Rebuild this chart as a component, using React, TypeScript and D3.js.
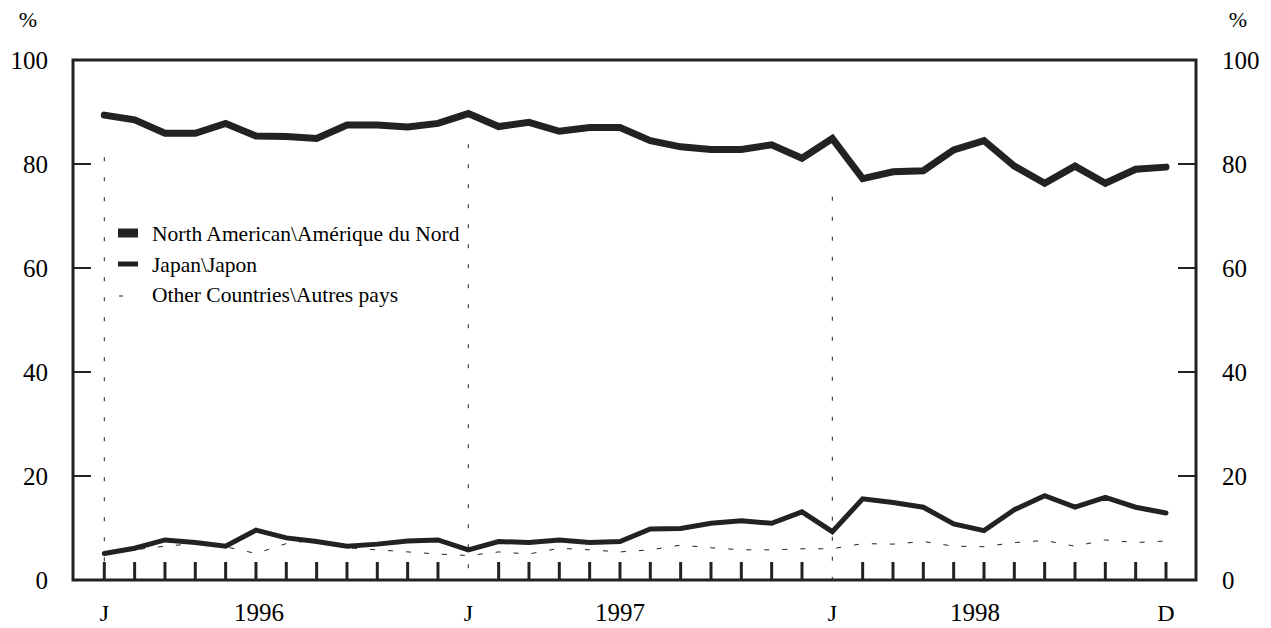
import React from "react";
import * as d3 from "d3";

const months: number[] = d3.range(36);

const northAmerica: number[] = [
  89.4, 88.5, 85.9, 85.9, 87.8, 85.4, 85.3, 84.9, 87.5, 87.5, 87.1, 87.8,
  89.7, 87.2, 88.0, 86.3, 87.0, 87.0, 84.5, 83.3, 82.8, 82.8, 83.7, 81.1,
  84.9, 77.2, 78.5, 78.7, 82.7, 84.5, 79.6, 76.3, 79.6, 76.3, 79.0, 79.4,
];

const japan: number[] = [
  5.1, 6.1, 7.7, 7.2, 6.5, 9.6, 8.1, 7.4, 6.5, 6.9, 7.5, 7.7,
  5.8, 7.4, 7.2, 7.7, 7.2, 7.4, 9.8, 9.9, 10.9, 11.4, 10.9, 13.1,
  9.3, 15.6, 14.9, 14.0, 10.8, 9.5, 13.5, 16.2, 14.0, 15.9, 14.0, 12.9,
];

const otherCountries: number[] = [
  5.1, 5.8, 6.5, 7.0, 6.4, 5.1, 7.0, 7.7, 6.2, 5.8, 5.4, 5.0,
  4.7, 5.4, 5.0, 6.1, 5.8, 5.4, 5.8, 6.7, 6.2, 5.8, 5.8, 6.0,
  6.0, 7.0, 6.9, 7.4, 6.5, 6.4, 7.2, 7.6, 6.5, 7.7, 7.2, 7.5,
];

const yTicks: number[] = [0, 20, 40, 60, 80, 100];

// year dividers: month index and the height (in %) where the dotted line starts
const dividerMonths: number[] = [0, 12, 24];
const dividerTops: number[] = [81.3, 83.8, 73.7];

const monthLabels: string[] = ["J", "J", "J", "D"];
const monthLabelPos: number[] = [0, 12, 24, 35];
const yearLabels: string[] = ["1996", "1997", "1998"];
const yearLabelPos: number[] = [5.1, 17, 28.7];

const legendLabels: string[] = [
  "North American\\Amérique du Nord",
  "Japan\\Japon",
  "Other Countries\\Autres pays",
];

const INK = "#222";
const FONT = "'Liberation Serif', 'Times New Roman', serif";

export default function App() {
  const W = 1271;
  const H = 628;
  const left = 73;
  const right = 1196;
  const top = 60;
  const bottom = 580;

  const x = d3.scaleLinear().domain([0, 35]).range([104.3, 1166]);
  const y = d3.scaleLinear().domain([0, 100]).range([bottom, top]);

  const line = d3
    .line<number>()
    .x((_, i) => x(months[i]))
    .y((d) => y(d))
    .curve(d3.curveLinear);

  return (
    <svg
      width={W}
      height={H}
      style={{ position: "absolute", left: 0, top: 0, background: "#fff", fontFamily: FONT }}
    >
      <rect x={0} y={0} width={W} height={H} fill="#fff" />

      {/* year divider dotted lines */}
      {dividerMonths.map((m, i) => (
        <line
          key={"div" + i}
          x1={x(m)}
          x2={x(m)}
          y1={y(dividerTops[i])}
          y2={bottom}
          stroke={INK}
          strokeWidth={1}
          strokeDasharray="4,16"
        />
      ))}

      {/* x ticks */}
      {months
        .filter((m) => m !== 12 && m !== 24)
        .map((m) => (
          <line
            key={"xt" + m}
            x1={x(m)}
            x2={x(m)}
            y1={bottom - 18}
            y2={bottom}
            stroke={INK}
            strokeWidth={3}
          />
        ))}

      {/* y ticks left & right */}
      {yTicks
        .filter((t) => t !== 0 && t !== 100)
        .map((t) => (
          <g key={"yt" + t}>
            <line x1={left} x2={left + 18} y1={y(t)} y2={y(t)} stroke={INK} strokeWidth={2} />
            <line x1={right - 18} x2={right} y1={y(t)} y2={y(t)} stroke={INK} strokeWidth={2} />
          </g>
        ))}

      {/* series */}
      <path
        d={line(otherCountries) || ""}
        fill="none"
        stroke={INK}
        strokeWidth={1}
        strokeDasharray="5,13"
      />
      <path
        d={line(japan) || ""}
        fill="none"
        stroke={INK}
        strokeWidth={5}
        strokeLinejoin="miter"
        strokeLinecap="round"
      />
      <path
        d={line(northAmerica) || ""}
        fill="none"
        stroke={INK}
        strokeWidth={7}
        strokeLinejoin="miter"
        strokeLinecap="round"
      />

      {/* frame */}
      <rect
        x={left}
        y={top}
        width={right - left}
        height={bottom - top}
        fill="none"
        stroke={INK}
        strokeWidth={3}
      />

      {/* y labels */}
      {yTicks.map((t) => (
        <g key={"yl" + t}>
          <text x={48} y={y(t) + 8.5} textAnchor="end" fontSize={25} fill="#000">
            {t}
          </text>
          <text x={1222} y={y(t) + 8.5} textAnchor="start" fontSize={25} fill="#000">
            {t}
          </text>
        </g>
      ))}
      <text x={28} y={27} textAnchor="middle" fontSize={22} fill="#000">%</text>
      <text x={1238} y={27} textAnchor="middle" fontSize={22} fill="#000">%</text>

      {/* x labels */}
      {monthLabels.map((l, i) => (
        <text key={"ml" + i} x={x(monthLabelPos[i])} y={621} textAnchor="middle" fontSize={24} fill="#000">
          {l}
        </text>
      ))}
      {yearLabels.map((l, i) => (
        <text key={"yr" + i} x={x(yearLabelPos[i])} y={621} textAnchor="middle" fontSize={25} fill="#000">
          {l}
        </text>
      ))}

      {/* legend */}
      <line x1={118} x2={138} y1={233} y2={233} stroke={INK} strokeWidth={9} />
      <line x1={118} x2={138} y1={264} y2={264} stroke={INK} strokeWidth={5} />
      <line x1={119} x2={123} y1={296} y2={296} stroke={INK} strokeWidth={1} />
      {legendLabels.map((l, i) => (
        <text key={"lg" + i} x={152} y={241 + i * 30.7} fontSize={21.5} fill="#000">
          {l}
        </text>
      ))}
    </svg>
  );
}
